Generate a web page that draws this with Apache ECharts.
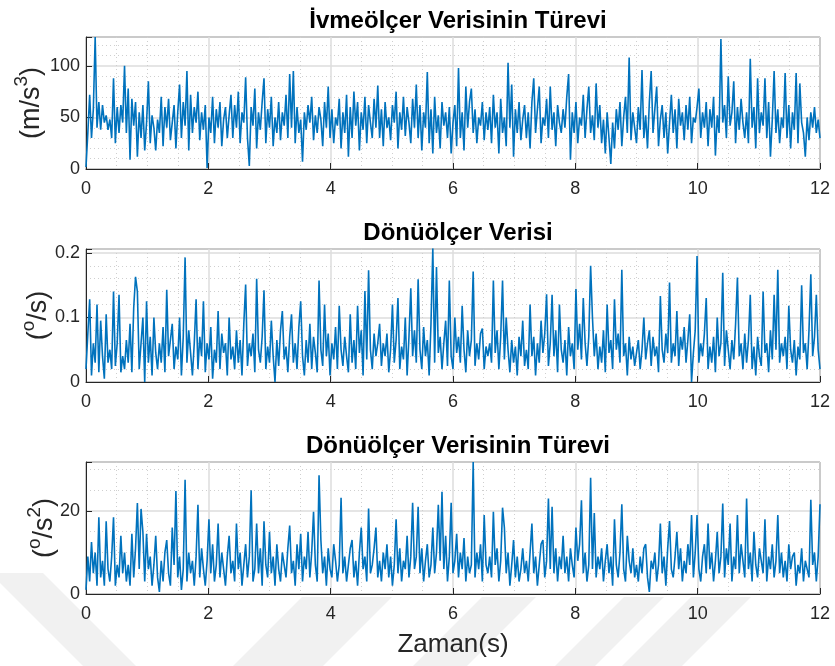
<!DOCTYPE html>
<html><head><meta charset="utf-8">
<script src="https://cdn.jsdelivr.net/npm/echarts@6/dist/echarts.min.js"></script>
<style>html,body{margin:0;padding:0;background:#fff}#c{width:835px;height:666px}</style>
</head><body><div id="c"></div>
<script>
const dt = 0.03;
const titles = ['İvmeölçer Verisinin Türevi', 'Dönüölçer Verisi', 'Dönüölçer Verisinin Türevi'];
const xName = 'Zaman(s)';
const jerk = [
2,35,72,30,58,128,40,65,38,62,45,52,38,48,30,88,25,60,35,62,
45,100,35,78,9,68,42,65,12,55,30,62,18,45,85,25,52,40,18,48,
35,70,22,60,40,68,28,45,62,20,55,82,30,65,42,95,18,72,35,60,
45,75,28,55,38,62,1,50,35,70,25,58,40,65,22,48,60,30,52,72,
30,62,40,75,25,55,45,89,30,3,60,42,78,20,55,38,65,88,25,58,
40,70,22,50,35,65,28,55,42,72,30,92,40,95,25,60,35,48,7,55,
38,62,45,70,28,52,35,60,48,22,65,40,80,30,58,25,50,42,68,20,
55,35,72,12,60,30,75,42,65,18,55,38,70,25,62,45,30,68,40,81,
30,58,22,65,40,50,28,62,45,75,20,55,38,70,32,60,45,25,68,40,
82,30,62,18,55,40,94,25,58,15,70,35,52,20,65,42,55,30,60,15,
45,62,22,98,30,55,18,80,40,65,78,35,58,25,50,42,65,28,55,38,
60,25,72,40,55,15,68,35,50,22,103,40,82,12,58,35,65,28,48,62,
30,55,20,65,88,35,58,80,25,50,42,68,30,80,38,55,22,62,45,35,
58,40,70,92,9,55,35,65,25,50,42,72,30,58,80,35,52,28,83,40,
62,25,48,15,55,30,5,45,20,58,38,65,22,50,70,35,108,28,55,40,
25,60,38,96,30,52,20,65,95,35,58,80,22,48,62,30,55,15,45,72,
35,58,20,68,42,55,28,62,38,70,25,50,45,60,78,30,55,40,65,22,
58,40,70,13,52,35,126,45,62,30,90,42,55,85,25,60,38,68,45,30,
55,25,107,40,60,20,88,35,55,42,88,30,65,12,48,95,35,58,25,50,
40,93,30,62,20,55,38,93,25,83,45,35,12,50,28,55,40,60,35,48,
30];
const gyro = [
0.02,0.075,0.128,0.01,0.06,0.03,0.12,0.015,0.095,0.04,0.005,0.105,0.03,0.05,0.02,0.14,0.025,0.06,0.135,0.015,
0.04,0.02,0.065,0.03,0.09,0.015,0.115,0.163,0.14,0.02,0.06,0.1,0.0,0.125,0.03,0.07,0.01,0.1,0.045,0.02,
0.06,0.03,0.085,0.015,0.143,0.04,0.065,0.09,0.02,0.055,0.035,0.1,0.01,0.07,0.193,0.03,0.08,0.045,0.01,0.06,
0.128,0.02,0.07,0.04,0.125,0.015,0.06,0.035,0.085,0.005,0.05,0.03,0.11,0.02,0.075,0.045,0.06,0.01,0.1,0.035,
0.055,0.02,0.08,0.03,0.065,0.01,0.09,0.151,0.025,0.06,0.04,0.075,0.015,0.16,0.05,0.03,0.07,0.142,0.02,0.055,
0.03,0.095,0.04,0.0,0.065,0.025,0.08,0.11,0.035,0.055,0.015,0.07,0.105,0.03,0.06,0.02,0.085,0.125,0.04,0.01,
0.065,0.03,0.09,0.02,0.07,0.045,0.015,0.157,0.05,0.025,0.12,0.04,0.075,0.01,0.06,0.035,0.085,0.02,0.118,0.05,
0.025,0.07,0.04,0.015,0.105,0.03,0.065,0.02,0.118,0.045,0.08,0.01,0.141,0.035,0.173,0.05,0.02,0.075,0.04,0.06,
0.09,0.025,0.06,0.04,0.075,0.015,0.05,0.12,0.03,0.065,0.13,0.02,0.055,0.035,0.1,0.01,0.07,0.145,0.04,0.08,
0.03,0.159,0.05,0.02,0.085,0.04,0.065,0.01,0.09,0.207,0.03,0.178,0.045,0.07,0.02,0.06,0.095,0.025,0.157,0.04,
0.02,0.1,0.045,0.07,0.03,0.118,0.05,0.015,0.08,0.04,0.065,0.171,0.025,0.06,0.035,0.075,0.083,0.02,0.055,0.04,
0.06,0.03,0.157,0.045,0.08,0.02,0.07,0.157,0.035,0.1,0.05,0.015,0.065,0.03,0.055,0.01,0.07,0.04,0.095,0.025,
0.05,0.02,0.12,0.04,0.07,0.01,0.06,0.03,0.095,0.045,0.075,0.136,0.025,0.06,0.135,0.04,0.08,0.015,0.12,0.05,
0.03,0.065,0.01,0.085,0.04,0.06,0.02,0.144,0.05,0.09,0.035,0.13,0.06,0.025,0.07,0.18,0.1,0.04,0.075,0.02,
0.055,0.03,0.08,0.015,0.12,0.045,0.065,0.02,0.128,0.05,0.075,0.03,0.174,0.04,0.06,0.01,0.07,0.035,0.055,0.025,
0.045,0.065,0.02,0.05,0.1,0.035,0.06,0.08,0.025,0.07,0.04,0.055,0.015,0.133,0.05,0.03,0.075,0.045,0.154,0.03,
0.06,0.04,0.11,0.025,0.07,0.05,0.085,0.03,0.065,0.105,0.0,0.045,0.08,0.195,0.03,0.06,0.04,0.075,0.13,0.02,
0.055,0.03,0.07,0.015,0.1,0.04,0.06,0.169,0.025,0.08,0.05,0.02,0.065,0.035,0.09,0.162,0.04,0.06,0.02,0.075,
0.03,0.065,0.135,0.02,0.055,0.01,0.07,0.04,0.025,0.14,0.045,0.06,0.015,0.08,0.035,0.135,0.05,0.174,0.03,0.06,
0.04,0.07,0.02,0.118,0.05,0.03,0.065,0.01,0.055,0.035,0.15,0.045,0.06,0.02,0.08,0.167,0.04,0.07,0.135,0.05,
0.02];
const gyroRate = [
1,9,3,12.5,5,10,2,18.5,4,8,2,17.5,6,3,9,18.5,2,7,4,14,
5,10,3,7,2,14.5,4,11,21.9,6,20.5,15,3,14.5,6,9,2,7,14,4,
0.5,8,3,10,13,5,2,16,7,24.8,4,9,1,6,27.5,3,10,5,8,2,
9,21.5,4,11,6,2,8,18,5,12,3,7,17,4,10,6,2,9,14,5,
8,3,17,6,10,2,7,12,4,9,25,3,6,17,5,11,2,17.5,7,4,
15,5,9,2,12,6,3,10,7,4,11,16.5,5,8,2,12,6,14.5,3,9,
6,15,4,10,19.8,7,3,28.6,13,5,9,2,11,6,4,12,8,3,7,23.2,
5,9,3,7,11,13,4,8,2,10,16,6,9,3,20.6,5,7,11,16,4,
8,3,10,6,12,4,9,2,7,18,5,11,3,8,6,14,4,9,22,6,
9,21,5,11,3,8,12,4,7,16,5,10,21.5,8,24.6,6,14,3,9,22,
5,8,14.5,4,10,6,13.5,3,9,5,7,31.8,4,10,6,12,3,19,7,5,
9,4,19.8,7,11,3,8,20.8,16,5,10,2,7,13,4,9,3,6,11,5,
8,3,10,17,5,9,2,7,12,13,4,8,23,6,21,5,11,3,9,6,
14,5,9,3,11,7,4,16,8,12,22.6,5,10,3,7,28,6,19.5,4,9,
6,11,3,8,12,5,9,2,18,7,4,10,21.6,6,3,14,8,5,11,4,
7,3,9,5,11,12,4,0.5,8,6,10,3,7,17,5,9,2,11,17.6,6,
4,9,15,6,11,3,8,5,12,7,19,4,10,19,6,3,9,12,5,17,
6,10,3,8,15,5,9,21.8,4,11,7,17,3,9,6,19,5,12,8,4,
23,6,10,3,15,7,4,11,8,5,18,3,9,6,12,4,8,19,5,10,
4,8,3,12,6,9,10,2,7,5,11,3,8,6,4,22.7,7,10,3,9,
21.6];
const yMax = [128, 0.206, 31.8];
const yInterval = [50, 0.1, 20];
const yMinorSplit = [5, 5, 4];
const yNames = ['{n|(m/s}{s|3}{n|)}', '{n|(}{s|o}{n|/s)}', '{n|(}{s|o}{n|/s}{s|2}{n|)}'];

const FONT = 'Liberation Sans, Arial, Helvetica, sans-serif';
const TXT = '#262626';
const gridTops = [37, 249, 462];
const gridHeights = [132, 133, 132];
const nameGaps = [41, 34, 28];
const seriesData = [jerk, gyro, gyroRate];

// faint background watermark bands (decoration only)
const WM = '#f1f1f1';
function slashBand(a, b) { return [[a, 666], [b, 666], [b + 69, 597], [a + 69, 597]]; }
const watermark = [
  {type: 'polygon', z: -10, silent: true, shape: {points: [[0, 583], [0, 573], [43, 573], [136, 666], [83, 666]]}, style: {fill: WM}},
  {type: 'polygon', z: -10, silent: true, shape: {points: slashBand(233, 323)}, style: {fill: WM}},
  {type: 'polygon', z: -10, silent: true, shape: {points: slashBand(413, 467)}, style: {fill: WM}},
  {type: 'polygon', z: -10, silent: true, shape: {points: slashBand(555, 595)}, style: {fill: WM}},
  {type: 'polygon', z: -10, silent: true, shape: {points: slashBand(622, 682)}, style: {fill: WM}}
];

const chart = echarts.init(document.getElementById('c'), null, {renderer: 'canvas'});
const grids = [], xAxes = [], yAxes = [], series = [], titleList = [];
const titleTops = [4, 216, 429];
for (let k = 0; k < 3; k++) {
  grids.push({left: 86, width: 734, top: gridTops[k], height: gridHeights[k], show: true,
    borderColor: TXT, borderWidth: 1, backgroundColor: 'transparent', containLabel: false});
  titleList.push({text: titles[k], left: 453, textAlign: 'center', top: titleTops[k],
    textStyle: {fontFamily: FONT, fontSize: 24, fontWeight: 'bold', color: '#000'}});
  xAxes.push({type: 'value', gridIndex: k, min: 0, max: 12, interval: 2,
    name: k === 2 ? xName : '', nameLocation: 'middle', nameGap: 38, nameMoveOverlap: false,
    nameTextStyle: {fontFamily: FONT, fontSize: 26, color: TXT},
    axisLine: {show: true, lineStyle: {color: TXT, width: 1}},
    axisTick: {show: true, inside: true, length: 6, lineStyle: {color: TXT}},
    axisLabel: {fontFamily: FONT, fontSize: 18, color: TXT, margin: 11},
    splitLine: {show: true, lineStyle: {color: '#dcdcdc', width: 1.5}},
    minorTick: {show: true, splitNumber: 4, length: 0, lineStyle: {color: 'rgba(0,0,0,0)'}},
    minorSplitLine: {show: true, lineStyle: {color: '#cfcfcf', width: 1, type: [1, 3]}}
  });
  yAxes.push({type: 'value', gridIndex: k, min: 0, max: yMax[k], interval: yInterval[k],
    name: yNames[k], nameLocation: 'middle', nameGap: nameGaps[k], nameRotate: 90, nameMoveOverlap: false,
    nameTextStyle: {fontFamily: FONT, color: TXT, fontSize: 27,
      rich: {n: {fontFamily: FONT, fontSize: 27, color: TXT, verticalAlign: 'bottom'},
             s: {fontFamily: FONT, fontSize: 19, color: TXT, verticalAlign: 'bottom', padding: [0, 0, 14, 0]}}},
    axisLine: {show: true, lineStyle: {color: TXT, width: 1}},
    axisTick: {show: true, inside: true, length: 6, lineStyle: {color: TXT}},
    axisLabel: {fontFamily: FONT, fontSize: 18, color: TXT, margin: 6, showMaxLabel: false},
    splitLine: {show: true, lineStyle: {color: '#dcdcdc', width: 1.5}},
    minorTick: {show: true, splitNumber: yMinorSplit[k], length: 0, lineStyle: {color: 'rgba(0,0,0,0)'}},
    minorSplitLine: {show: true, lineStyle: {color: '#cfcfcf', width: 1, type: [1, 3]}}
  });
  series.push({type: 'line', xAxisIndex: k, yAxisIndex: k, showSymbol: false, symbol: 'none',
    data: seriesData[k].map((v, i) => [+(i * dt).toFixed(2), v]),
    lineStyle: {color: '#0072BD', width: 1.6}, itemStyle: {color: '#0072BD'},
    clip: true, animation: false});
}
chart.setOption({
  animation: false,
  backgroundColor: '#fff',
  graphic: watermark,
  title: titleList,
  grid: grids,
  xAxis: xAxes,
  yAxis: yAxes,
  series: series
});
</script>
</body></html>
